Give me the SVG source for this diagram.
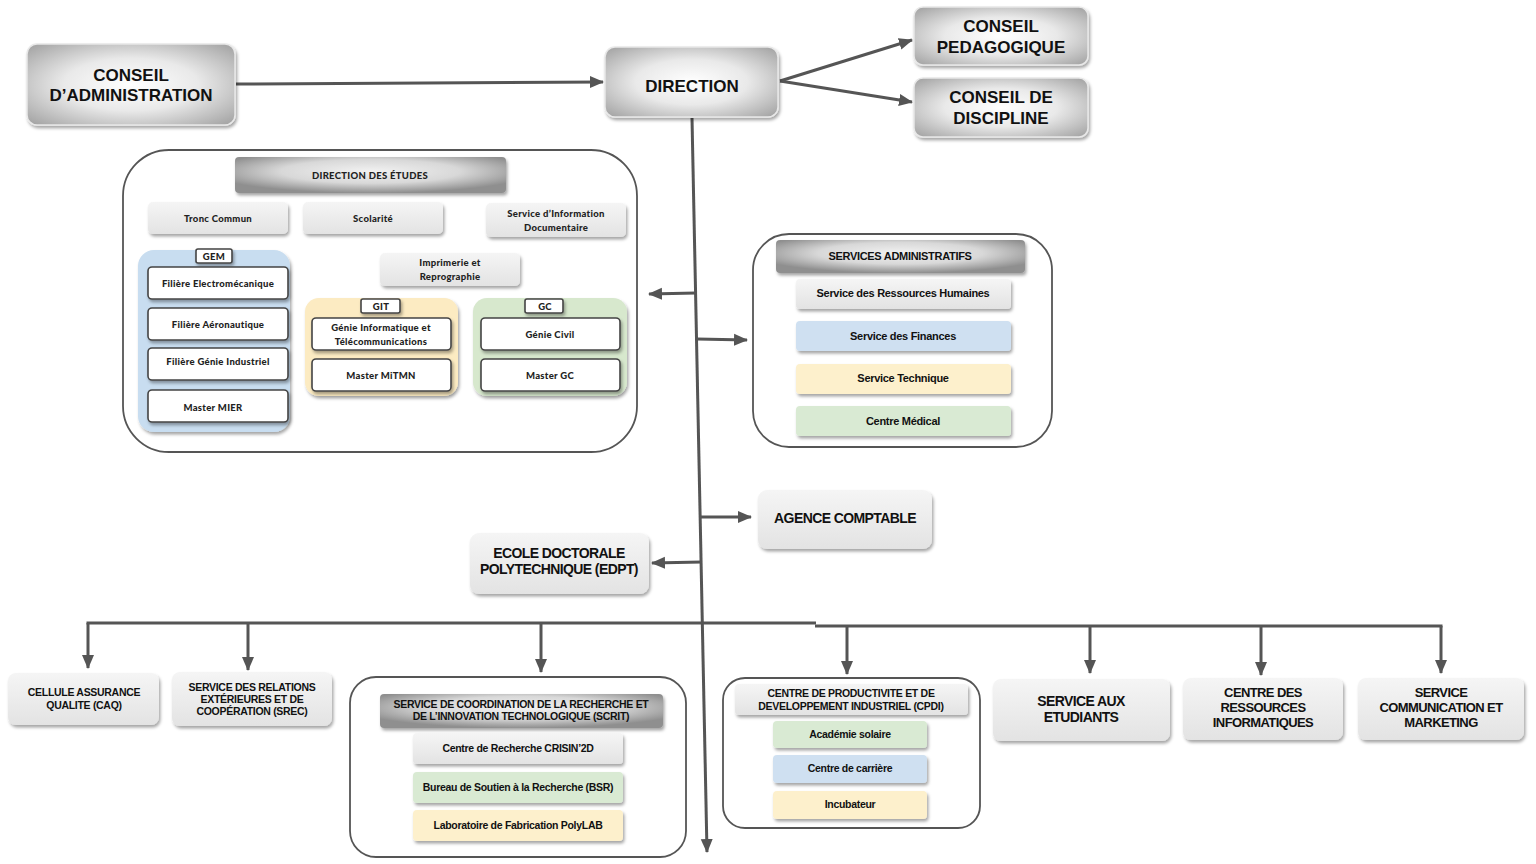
<svg xmlns="http://www.w3.org/2000/svg" width="1536" height="864" viewBox="0 0 1536 864">
<defs>
<radialGradient id="gMain" cx="50%" cy="50%" r="72%">
<stop offset="0" stop-color="#ffffff"/>
<stop offset="0.45" stop-color="#e9e9e9"/>
<stop offset="1" stop-color="#9c9c9c"/>
</radialGradient>
<radialGradient id="gHead" cx="50%" cy="40%" r="60%">
<stop offset="0" stop-color="#f2f2f2"/>
<stop offset="0.55" stop-color="#d8d8d8"/>
<stop offset="1" stop-color="#8f8f8f"/>
</radialGradient>
<linearGradient id="gLight" x1="0" y1="0" x2="0" y2="1">
<stop offset="0" stop-color="#f5f5f5"/>
<stop offset="1" stop-color="#e3e3e3"/>
</linearGradient>
<filter id="sh" x="-10%" y="-20%" width="125%" height="150%">
<feDropShadow dx="1.5" dy="2.5" stdDeviation="1.8" flood-color="#000" flood-opacity="0.35"/>
</filter>
<marker id="ah" markerUnits="userSpaceOnUse" markerWidth="14" markerHeight="14" viewBox="0 0 14 14" refX="13" refY="7" orient="auto">
<path d="M0,1 L14,7 L0,13 Z" fill="#555"/>
</marker>
</defs>
<style>
.main{fill:url(#gMain);stroke:#e8e8e8;stroke-width:1.5;filter:url(#sh)}
.head{fill:url(#gHead);stroke:none;filter:url(#sh)}
.light{fill:url(#gLight);stroke:none;filter:url(#sh)}
.outer{fill:#fff;stroke:#555;stroke-width:1.8}
.w{fill:#fff;stroke:#444;stroke-width:1.6;filter:url(#sh)}
.blue{fill:#cfe0f1;filter:url(#sh)}
.yel{fill:#fdf0cc;filter:url(#sh)}
.grn{fill:#d9ead3;filter:url(#sh)}
.gblue{fill:#c8ddf0;filter:url(#sh)}
.gyel{fill:#fcebc2;filter:url(#sh)}
.ggrn{fill:#d7e8cd;filter:url(#sh)}
text{font-family:"Liberation Sans",Arial,sans-serif;font-weight:bold;fill:#111;text-anchor:middle}
.t17{font-size:17px}
.t14{font-size:14px;letter-spacing:-0.6px}
.t13{font-size:13px;letter-spacing:-0.6px}
.t11{font-size:11px;letter-spacing:-0.3px}
.t10{font-size:10.5px;letter-spacing:-0.3px}
.g{font-family:Lato,"Open Sans",sans-serif;font-weight:900;font-size:9.5px;letter-spacing:0.3px;fill:#222}
.conn{fill:none;stroke:#555;stroke-width:3}
</style>

<g id="connectors">
<path class="conn" d="M236,84 L603,82" marker-end="url(#ah)"/>
<path class="conn" d="M780,81 L912,40" marker-end="url(#ah)"/>
<path class="conn" d="M780,81 L912,102" marker-end="url(#ah)"/>
<path class="conn" d="M692,118 L707,852" marker-end="url(#ah)"/>
<path class="conn" d="M696,293 L649,294" marker-end="url(#ah)"/>
<path class="conn" d="M697,339 L747,340" marker-end="url(#ah)"/>
<path class="conn" d="M701,517 L751,517" marker-end="url(#ah)"/>
<path class="conn" d="M702,562 L652,563" marker-end="url(#ah)"/>
<path class="conn" d="M86.5,623 L816,623"/>
<path class="conn" d="M815,626 L1442.5,626"/>
<path class="conn" d="M88,623 L88,668" marker-end="url(#ah)"/>
<path class="conn" d="M248,623 L248,670" marker-end="url(#ah)"/>
<path class="conn" d="M541,623 L541,672" marker-end="url(#ah)"/>
<path class="conn" d="M847,626 L847,674" marker-end="url(#ah)"/>
<path class="conn" d="M1090,626 L1090,673" marker-end="url(#ah)"/>
<path class="conn" d="M1261,626 L1261,675" marker-end="url(#ah)"/>
<path class="conn" d="M1441,626 L1441,673" marker-end="url(#ah)"/>
</g>

<g id="conseil-administration">
<rect class="main" x="27" y="44" width="208" height="81" rx="10"/>
<text class="t17" x="131" y="81">CONSEIL</text>
<text class="t17" x="131" y="101">D’ADMINISTRATION</text>
</g>
<g id="direction">
<rect class="main" x="605" y="47" width="173" height="70" rx="10"/>
<text class="t17" x="692" y="92">DIRECTION</text>
</g>
<g id="conseil-pedagogique">
<rect class="main" x="914" y="7" width="174" height="58" rx="9"/>
<text class="t17" x="1001" y="32">CONSEIL</text>
<text class="t17" x="1001" y="53">PEDAGOGIQUE</text>
</g>
<g id="conseil-discipline">
<rect class="main" x="914" y="78" width="174" height="59" rx="9"/>
<text class="t17" x="1001" y="103">CONSEIL DE</text>
<text class="t17" x="1001" y="124">DISCIPLINE</text>
</g>

<g id="direction-etudes">
<rect class="outer" x="123" y="150" width="514" height="302" rx="46"/>
<rect class="head" x="235" y="157" width="271" height="36" rx="4"/>
<text class="g" x="370" y="179">DIRECTION DES ÉTUDES</text>
<rect class="light" x="148" y="202" width="140" height="32" rx="5"/>
<text class="g" x="218" y="222">Tronc Commun</text>
<rect class="light" x="303" y="202" width="140" height="32" rx="5"/>
<text class="g" x="373" y="222">Scolarité</text>
<rect class="light" x="486" y="203" width="140" height="34" rx="5"/>
<text class="g" x="556" y="217">Service d’Information</text>
<text class="g" x="556" y="231">Documentaire</text>
<rect class="light" x="380" y="253" width="140" height="33" rx="5"/>
<text class="g" x="450" y="266">Imprimerie et</text>
<text class="g" x="450" y="280">Reprographie</text>
<g id="gem">
<rect class="gblue" x="138" y="250" width="152" height="182" rx="16"/>
<rect class="w" x="196" y="249" width="36" height="14" rx="2"/>
<text class="g" x="214" y="260">GEM</text>
<rect class="w" x="148" y="267" width="140" height="32" rx="4"/>
<text class="g" x="218" y="287">Filière Electromécanique</text>
<rect class="w" x="148" y="308" width="140" height="32" rx="4"/>
<text class="g" x="218" y="328">Filière Aéronautique</text>
<rect class="w" x="148" y="348" width="140" height="32" rx="4"/>
<text class="g" x="218" y="365">Filière Génie Industriel</text>
<rect class="w" x="148" y="390" width="140" height="32" rx="4"/>
<text class="g" x="213" y="411">Master MIER</text>
</g>
<g id="git">
<rect class="gyel" x="305" y="298" width="153" height="98" rx="14"/>
<rect class="w" x="361" y="299" width="39" height="14" rx="2"/>
<text class="g" x="381" y="310">GIT</text>
<rect class="w" x="312" y="318" width="139" height="32" rx="4"/>
<text class="g" x="381" y="331">Génie Informatique et</text>
<text class="g" x="381" y="345">Télécommunications</text>
<rect class="w" x="312" y="359" width="139" height="32" rx="4"/>
<text class="g" x="381" y="379">Master MiTMN</text>
</g>
<g id="gc">
<rect class="ggrn" x="473" y="298" width="154" height="98" rx="14"/>
<rect class="w" x="525" y="299" width="38" height="14" rx="2"/>
<text class="g" x="545" y="310">GC</text>
<rect class="w" x="481" y="318" width="139" height="32" rx="4"/>
<text class="g" x="550" y="338">Génie Civil</text>
<rect class="w" x="481" y="359" width="139" height="32" rx="4"/>
<text class="g" x="550" y="379">Master GC</text>
</g>
</g>

<g id="services-administratifs">
<rect class="outer" x="753" y="234" width="299" height="213" rx="36"/>
<rect class="head" x="776" y="240" width="249" height="33" rx="4"/>
<text class="t11" x="900" y="260">SERVICES ADMINISTRATIFS</text>
<rect class="light" x="796" y="279" width="215" height="30" rx="4"/>
<text class="t11" x="903" y="297">Service des Ressources Humaines</text>
<rect class="blue" x="796" y="321" width="215" height="30" rx="4"/>
<text class="t11" x="903" y="340">Service des Finances</text>
<rect class="yel" x="796" y="364" width="215" height="30" rx="4"/>
<text class="t11" x="903" y="382">Service Technique</text>
<rect class="grn" x="796" y="406" width="215" height="30" rx="4"/>
<text class="t11" x="903" y="425">Centre Médical</text>
</g>

<g id="agence-comptable">
<rect class="light" x="758" y="490" width="174" height="59" rx="9"/>
<text class="t14" x="845" y="523">AGENCE COMPTABLE</text>
</g>
<g id="edpt">
<rect class="light" x="470" y="533" width="179" height="61" rx="9"/>
<text class="t14" x="559" y="558">ECOLE DOCTORALE</text>
<text class="t14" x="559" y="574">POLYTECHNIQUE (EDPT)</text>
</g>

<g id="caq">
<rect class="light" x="8" y="673" width="151" height="52" rx="8"/>
<text class="t10" x="84" y="696">CELLULE ASSURANCE</text>
<text class="t10" x="84" y="709">QUALITE (CAQ)</text>
</g>
<g id="srec">
<rect class="light" x="172" y="672" width="160" height="54" rx="8"/>
<text class="t10" x="252" y="691">SERVICE DES RELATIONS</text>
<text class="t10" x="252" y="703">EXTÉRIEURES  ET DE</text>
<text class="t10" x="252" y="715">COOPÉRATION  (SREC)</text>
</g>
<g id="scrit">
<rect class="outer" x="350" y="677" width="336" height="180" rx="26"/>
<rect class="head" x="380" y="694" width="283" height="34" rx="4"/>
<text class="t10" x="521" y="708">SERVICE DE COORDINATION DE LA RECHERCHE ET</text>
<text class="t10" x="521" y="720">DE L’INNOVATION TECHNOLOGIQUE (SCRIT)</text>
<rect class="light" x="413" y="733" width="210" height="31" rx="4"/>
<text class="t10" x="518" y="752">Centre de Recherche CRISIN’2D</text>
<rect class="grn" x="413" y="772" width="210" height="31" rx="4"/>
<text class="t10" x="518" y="791">Bureau de Soutien à la Recherche (BSR)</text>
<rect class="yel" x="413" y="810" width="210" height="31" rx="4"/>
<text class="t10" x="518" y="829">Laboratoire de Fabrication PolyLAB</text>
</g>
<g id="cpdi">
<rect class="outer" x="723" y="678" width="257" height="150" rx="22"/>
<rect class="light" x="735" y="684" width="233" height="31" rx="4"/>
<text class="t10" x="851" y="697">CENTRE DE PRODUCTIVITE ET DE</text>
<text class="t10" x="851" y="710">DEVELOPPEMENT INDUSTRIEL (CPDI)</text>
<rect class="grn" x="773" y="721" width="154" height="27" rx="4"/>
<text class="t10" x="850" y="738">Académie solaire</text>
<rect class="blue" x="773" y="755" width="154" height="28" rx="4"/>
<text class="t10" x="850" y="772">Centre de carrière</text>
<rect class="yel" x="773" y="791" width="154" height="28" rx="4"/>
<text class="t10" x="850" y="808">Incubateur</text>
</g>
<g id="service-etudiants">
<rect class="light" x="993" y="679" width="177" height="62" rx="8"/>
<text class="t14" x="1081" y="706">SERVICE AUX</text>
<text class="t14" x="1081" y="722">ETUDIANTS</text>
</g>
<g id="cri">
<rect class="light" x="1183" y="678" width="160" height="62" rx="8"/>
<text class="t13" x="1263" y="697">CENTRE DES</text>
<text class="t13" x="1263" y="712">RESSOURCES</text>
<text class="t13" x="1263" y="727">INFORMATIQUES</text>
</g>
<g id="scm">
<rect class="light" x="1358" y="678" width="166" height="62" rx="8"/>
<text class="t13" x="1441" y="697">SERVICE</text>
<text class="t13" x="1441" y="712">COMMUNICATION ET</text>
<text class="t13" x="1441" y="727">MARKETING</text>
</g>
</svg>
